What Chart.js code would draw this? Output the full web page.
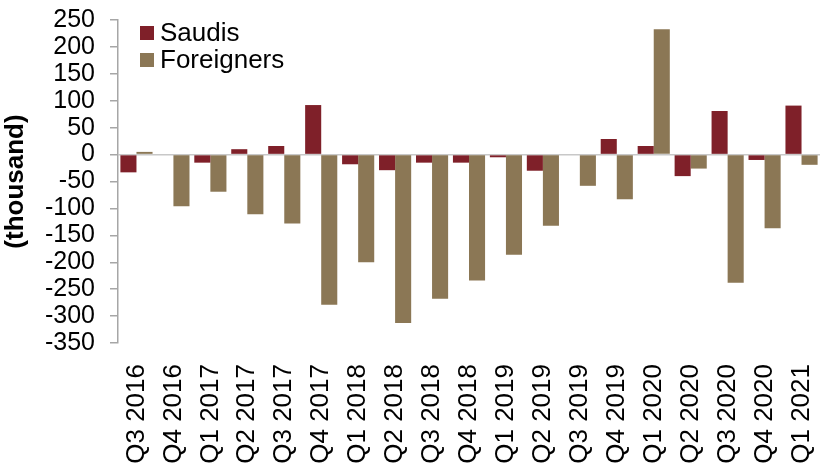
<!DOCTYPE html>
<html>
<head>
<meta charset="utf-8">
<script src="https://cdn.jsdelivr.net/npm/chart.js@4.4.1/dist/chart.umd.min.js"></script>
<style>
  html, body { margin: 0; padding: 0; background: #fff; overflow: hidden; }
  canvas { display: block; }
</style>
</head>
<body>
<canvas id="chart" width="820" height="463"></canvas>
<script>
// Data (thousand)
const quarters = ['Q3 2016', 'Q4 2016', 'Q1 2017', 'Q2 2017', 'Q3 2017', 'Q4 2017',
    'Q1 2018', 'Q2 2018', 'Q3 2018', 'Q4 2018', 'Q1 2019', 'Q2 2019', 'Q3 2019',
    'Q4 2019', 'Q1 2020', 'Q2 2020', 'Q3 2020', 'Q4 2020', 'Q1 2021'];
const saudis = [-33, 0, -15, 10, 16, 92, -18, -29, -15, -15, -5, -30, 0, 29, 16, -40, 81, -10, 91];
const foreigners = [5, -96, -69, -111, -128, -279, -200, -313, -268, -234, -186, -132, -58, -83, 233, -26, -238, -137, -19];
const yTicks = { min: -350, max: 250, step: 50 };

const FONT = 'Arial, "Liberation Sans", sans-serif';

// legend drawn inside the plot, top-left
const innerLegend = {
    id: 'innerLegend',
    afterDraw(chart) {
        const c = chart.ctx;
        const left = chart.chartArea.left + 22;
        let y = chart.chartArea.top + 13;
        c.save();
        c.font = '26px ' + FONT;
        c.textBaseline = 'middle';
        c.textAlign = 'left';
        chart.data.datasets.forEach(ds => {
            c.fillStyle = ds.backgroundColor;
            c.fillRect(left, y - 7, 14, 14);
            c.fillStyle = '#000';
            c.fillText(ds.label, left + 20, y + 1);
            y += 27;
        });
        c.restore();
    }
};

new Chart(document.getElementById('chart'), {
    type: 'bar',
    data: {
        labels: quarters,
        datasets: [
            { label: 'Saudis', data: saudis, backgroundColor: '#7f2029' },
            { label: 'Foreigners', data: foreigners, backgroundColor: '#8b7755' }
        ]
    },
    options: {
        responsive: false,
        animation: false,
        devicePixelRatio: 1,
        categoryPercentage: 0.87,
        barPercentage: 1.0,
        layout: { autoPadding: false, padding: { top: 20, right: 0, left: 0, bottom: 0 } },
        plugins: {
            legend: { display: false },
            tooltip: { enabled: false }
        },
        scales: {
            x: {
                grid: { display: false },
                border: { display: false },
                ticks: {
                    color: '#000',
                    font: { family: FONT, size: 26 },
                    minRotation: 90,
                    maxRotation: 90,
                    autoSkip: false,
                    padding: 13
                },
                afterFit: (s) => {
                    s.height = 120;
                    s.paddingLeft = 0;
                    s.paddingRight = 0;
                }
            },
            y: {
                min: yTicks.min,
                max: yTicks.max,
                ticks: {
                    stepSize: yTicks.step,
                    autoSkip: false,
                    color: '#000',
                    font: { family: FONT, size: 25 },
                    padding: 15
                },
                grid: {
                    drawOnChartArea: true,
                    tickLength: 8,
                    tickColor: '#a6a6a6',
                    tickWidth: 1.5,
                    color: (ctx) => ctx.tick && ctx.tick.value === 0 ? '#c8c8c8' : 'rgba(0,0,0,0)',
                    lineWidth: 1.5
                },
                border: { display: true, color: '#a6a6a6', width: 1.5 },
                title: {
                    display: true,
                    text: '(thousand)',
                    color: '#000',
                    font: { family: FONT, size: 26, weight: 'bold' },
                    padding: { top: 0, bottom: 0 }
                },
                afterFit: (s) => {
                    s.width = 118;
                    s.paddingTop = 0;
                    s.paddingBottom = 0;
                }
            }
        }
    },
    plugins: [innerLegend]
});
</script>
</body>
</html>
